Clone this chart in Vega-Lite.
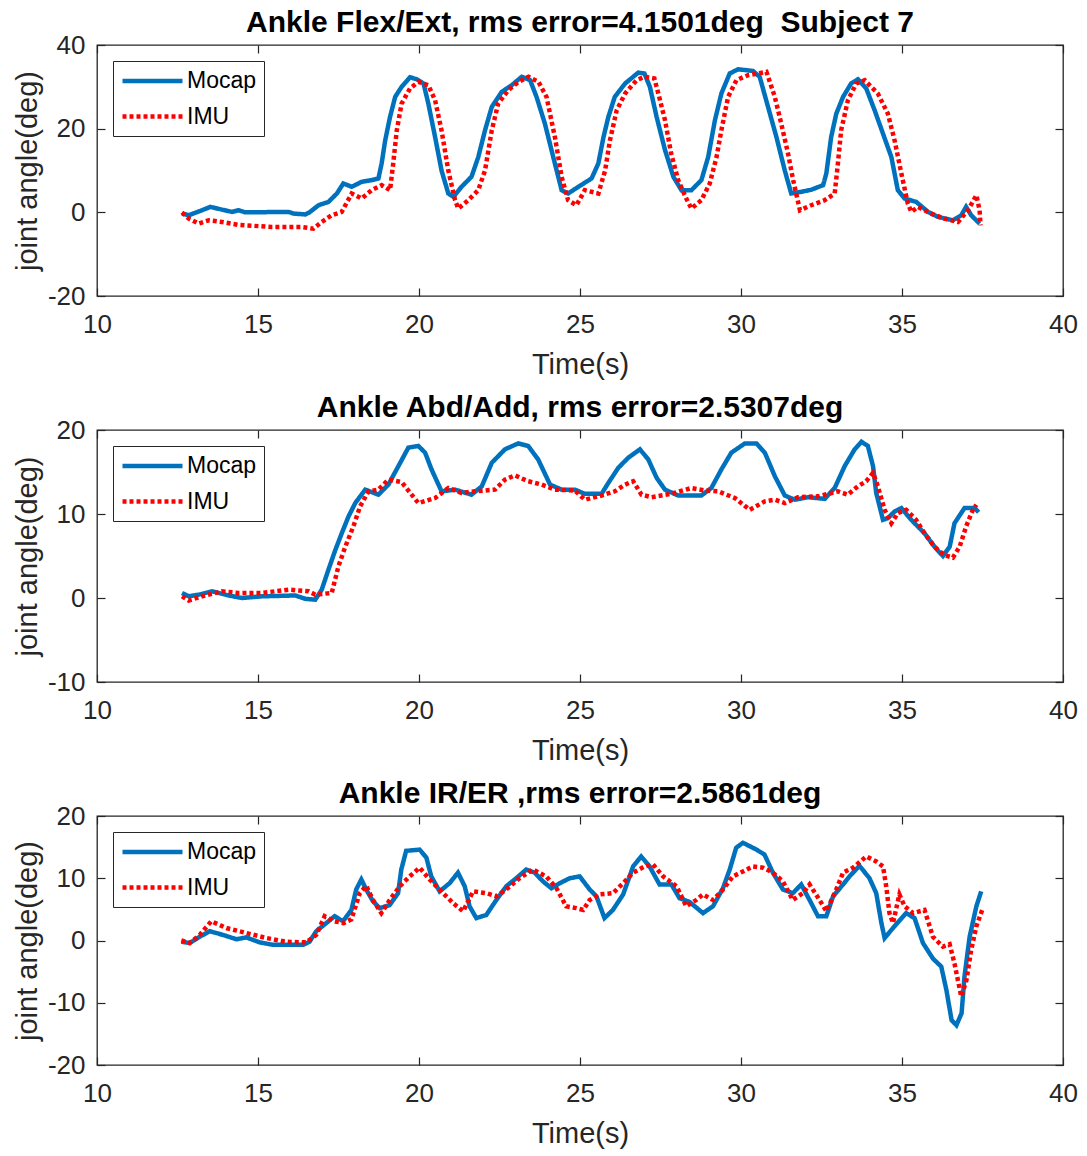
{
  "$schema": "https://vega.github.io/schema/vega-lite/v6.json",
  "padding": {"left": 12, "top": 7, "right": 6, "bottom": 4},
  "spacing": 11,
  "config": {
    "font": "Liberation Sans",
    "view": {"stroke": "#262626", "strokeWidth": 1.3},
    "axis": {"grid": false, "domain": false, "minExtent": 0, "tickSize": -8, "tickColor": "#262626", "tickWidth": 1.2, "labelFont": "Liberation Sans", "labelFontSize": 26, "labelColor": "#262626", "labelFlush": false, "labelOverlap": false, "labelExpr": "replace(datum.label, '\u2212', '-')", "titleFont": "Liberation Sans", "titleFontSize": 29, "titleFontWeight": "normal", "titleColor": "#262626"},
    "axisX": {"labelPadding": 23, "titlePadding": 13.5},
    "axisY": {"labelPadding": 20, "titlePadding": 5},
    "title": {"font": "Liberation Sans", "fontSize": 30, "fontWeight": "bold", "color": "#000000", "anchor": "middle", "baseline": "alphabetic", "offset": -6},
    "legend": {"orient": "top-left", "offset": 16, "symbolType": "M-1.05,0H4.95", "symbolSize": 400, "symbolStrokeWidth": 4.5, "labelFont": "Liberation Sans", "labelFontSize": 23, "labelColor": "#000000", "strokeColor": "#262626", "fillColor": "white", "padding": 7.5, "rowPadding": 10.5, "labelOffset": 41.5}
  },
  "datasets": {
    "p1": [
      {"t":12.64,"v":-0.3,"s":"Mocap"},{"t":12.85,"v":-0.7,"s":"Mocap"},{"t":13.26,"v":0.5,"s":"Mocap"},{"t":13.52,"v":1.3,"s":"Mocap"},{"t":14.19,"v":0.1,"s":"Mocap"},{"t":14.4,"v":0.5,"s":"Mocap"},{"t":14.6,"v":0,"s":"Mocap"},{"t":15.95,"v":0.1,"s":"Mocap"},{"t":16.1,"v":-0.3,"s":"Mocap"},{"t":16.47,"v":-0.5,"s":"Mocap"},{"t":16.6,"v":0,"s":"Mocap"},{"t":16.88,"v":1.7,"s":"Mocap"},{"t":17.19,"v":2.5,"s":"Mocap"},{"t":17.45,"v":4.5,"s":"Mocap"},{"t":17.65,"v":6.9,"s":"Mocap"},{"t":17.91,"v":6.1,"s":"Mocap"},{"t":18.22,"v":7.3,"s":"Mocap"},{"t":18.53,"v":7.7,"s":"Mocap"},{"t":18.74,"v":8.1,"s":"Mocap"},{"t":18.84,"v":11.7,"s":"Mocap"},{"t":18.95,"v":17.2,"s":"Mocap"},{"t":19.1,"v":22.8,"s":"Mocap"},{"t":19.26,"v":27.6,"s":"Mocap"},{"t":19.46,"v":30,"s":"Mocap"},{"t":19.72,"v":32.3,"s":"Mocap"},{"t":19.93,"v":31.8,"s":"Mocap"},{"t":20.14,"v":30.8,"s":"Mocap"},{"t":20.29,"v":26,"s":"Mocap"},{"t":20.5,"v":18,"s":"Mocap"},{"t":20.7,"v":10,"s":"Mocap"},{"t":20.91,"v":4.5,"s":"Mocap"},{"t":21.07,"v":3.7,"s":"Mocap"},{"t":21.32,"v":6.1,"s":"Mocap"},{"t":21.63,"v":8.5,"s":"Mocap"},{"t":21.84,"v":13.2,"s":"Mocap"},{"t":22.05,"v":19.6,"s":"Mocap"},{"t":22.26,"v":25.2,"s":"Mocap"},{"t":22.57,"v":28.8,"s":"Mocap"},{"t":22.88,"v":30.4,"s":"Mocap"},{"t":23.19,"v":32.4,"s":"Mocap"},{"t":23.45,"v":31.6,"s":"Mocap"},{"t":23.65,"v":27.6,"s":"Mocap"},{"t":23.91,"v":21.2,"s":"Mocap"},{"t":24.17,"v":13.2,"s":"Mocap"},{"t":24.43,"v":5.3,"s":"Mocap"},{"t":24.63,"v":4.5,"s":"Mocap"},{"t":24.95,"v":6.1,"s":"Mocap"},{"t":25.36,"v":8.1,"s":"Mocap"},{"t":25.57,"v":11.7,"s":"Mocap"},{"t":25.73,"v":18,"s":"Mocap"},{"t":25.88,"v":22.8,"s":"Mocap"},{"t":26.08,"v":27.6,"s":"Mocap"},{"t":26.4,"v":30.8,"s":"Mocap"},{"t":26.81,"v":33.4,"s":"Mocap"},{"t":27.0,"v":33.2,"s":"Mocap"},{"t":27.17,"v":30,"s":"Mocap"},{"t":27.38,"v":22.8,"s":"Mocap"},{"t":27.64,"v":14.9,"s":"Mocap"},{"t":27.9,"v":8.5,"s":"Mocap"},{"t":28.15,"v":5.3,"s":"Mocap"},{"t":28.46,"v":5.3,"s":"Mocap"},{"t":28.77,"v":7.7,"s":"Mocap"},{"t":28.98,"v":13.2,"s":"Mocap"},{"t":29.19,"v":22,"s":"Mocap"},{"t":29.39,"v":28.4,"s":"Mocap"},{"t":29.65,"v":33.2,"s":"Mocap"},{"t":29.91,"v":34.2,"s":"Mocap"},{"t":30.37,"v":33.8,"s":"Mocap"},{"t":30.58,"v":32.4,"s":"Mocap"},{"t":30.84,"v":25.2,"s":"Mocap"},{"t":31.1,"v":18,"s":"Mocap"},{"t":31.36,"v":10,"s":"Mocap"},{"t":31.56,"v":4.5,"s":"Mocap"},{"t":31.87,"v":4.9,"s":"Mocap"},{"t":32.18,"v":5.4,"s":"Mocap"},{"t":32.55,"v":6.5,"s":"Mocap"},{"t":32.65,"v":9.3,"s":"Mocap"},{"t":32.8,"v":18,"s":"Mocap"},{"t":32.96,"v":23.6,"s":"Mocap"},{"t":33.17,"v":27.6,"s":"Mocap"},{"t":33.42,"v":30.8,"s":"Mocap"},{"t":33.63,"v":31.8,"s":"Mocap"},{"t":33.89,"v":29.6,"s":"Mocap"},{"t":34.15,"v":24.4,"s":"Mocap"},{"t":34.41,"v":18.8,"s":"Mocap"},{"t":34.67,"v":13.2,"s":"Mocap"},{"t":34.87,"v":5.3,"s":"Mocap"},{"t":35.08,"v":3.3,"s":"Mocap"},{"t":35.44,"v":2.5,"s":"Mocap"},{"t":35.81,"v":0.1,"s":"Mocap"},{"t":36.12,"v":-1.1,"s":"Mocap"},{"t":36.58,"v":-1.9,"s":"Mocap"},{"t":36.84,"v":-0.7,"s":"Mocap"},{"t":36.99,"v":1.3,"s":"Mocap"},{"t":37.15,"v":-0.7,"s":"Mocap"},{"t":37.41,"v":-2.7,"s":"Mocap"},
      {"t":12.64,"v":0,"s":"IMU"},{"t":12.85,"v":-1.5,"s":"IMU"},{"t":13.16,"v":-2.7,"s":"IMU"},{"t":13.47,"v":-1.9,"s":"IMU"},{"t":13.88,"v":-2.3,"s":"IMU"},{"t":14.4,"v":-3,"s":"IMU"},{"t":15.43,"v":-3.5,"s":"IMU"},{"t":16.36,"v":-3.5,"s":"IMU"},{"t":16.72,"v":-3.9,"s":"IMU"},{"t":16.98,"v":-2.3,"s":"IMU"},{"t":17.29,"v":-0.7,"s":"IMU"},{"t":17.6,"v":0.1,"s":"IMU"},{"t":17.91,"v":4.5,"s":"IMU"},{"t":18.22,"v":3.3,"s":"IMU"},{"t":18.53,"v":5.3,"s":"IMU"},{"t":18.84,"v":6.5,"s":"IMU"},{"t":19.1,"v":5.3,"s":"IMU"},{"t":19.2,"v":11.7,"s":"IMU"},{"t":19.31,"v":19.6,"s":"IMU"},{"t":19.46,"v":26,"s":"IMU"},{"t":19.72,"v":29.6,"s":"IMU"},{"t":19.98,"v":31.2,"s":"IMU"},{"t":20.29,"v":30.4,"s":"IMU"},{"t":20.5,"v":26.8,"s":"IMU"},{"t":20.7,"v":19.6,"s":"IMU"},{"t":20.91,"v":10,"s":"IMU"},{"t":21.12,"v":2.9,"s":"IMU"},{"t":21.22,"v":0.9,"s":"IMU"},{"t":21.53,"v":2.9,"s":"IMU"},{"t":21.84,"v":5.3,"s":"IMU"},{"t":22.05,"v":10,"s":"IMU"},{"t":22.26,"v":19.6,"s":"IMU"},{"t":22.46,"v":26,"s":"IMU"},{"t":22.77,"v":29.2,"s":"IMU"},{"t":23.09,"v":31.2,"s":"IMU"},{"t":23.4,"v":32.4,"s":"IMU"},{"t":23.71,"v":31.2,"s":"IMU"},{"t":23.96,"v":27.6,"s":"IMU"},{"t":24.22,"v":18,"s":"IMU"},{"t":24.43,"v":8.5,"s":"IMU"},{"t":24.63,"v":2.9,"s":"IMU"},{"t":24.89,"v":1.7,"s":"IMU"},{"t":25.15,"v":5.3,"s":"IMU"},{"t":25.57,"v":4.5,"s":"IMU"},{"t":25.78,"v":10,"s":"IMU"},{"t":25.93,"v":17.2,"s":"IMU"},{"t":26.14,"v":24.4,"s":"IMU"},{"t":26.4,"v":28.4,"s":"IMU"},{"t":26.76,"v":31.6,"s":"IMU"},{"t":27.0,"v":32.4,"s":"IMU"},{"t":27.31,"v":32,"s":"IMU"},{"t":27.46,"v":27.6,"s":"IMU"},{"t":27.64,"v":22,"s":"IMU"},{"t":27.83,"v":14.1,"s":"IMU"},{"t":28.05,"v":7.7,"s":"IMU"},{"t":28.3,"v":3.3,"s":"IMU"},{"t":28.46,"v":0.9,"s":"IMU"},{"t":28.77,"v":2.9,"s":"IMU"},{"t":29.03,"v":6.9,"s":"IMU"},{"t":29.24,"v":13.2,"s":"IMU"},{"t":29.39,"v":19.6,"s":"IMU"},{"t":29.6,"v":27.6,"s":"IMU"},{"t":29.86,"v":31.6,"s":"IMU"},{"t":30.22,"v":32.8,"s":"IMU"},{"t":30.53,"v":33.2,"s":"IMU"},{"t":30.79,"v":33.6,"s":"IMU"},{"t":31.05,"v":27.6,"s":"IMU"},{"t":31.25,"v":21.2,"s":"IMU"},{"t":31.46,"v":14.1,"s":"IMU"},{"t":31.62,"v":7.7,"s":"IMU"},{"t":31.83,"v":0.5,"s":"IMU"},{"t":32.18,"v":1.7,"s":"IMU"},{"t":32.6,"v":2.9,"s":"IMU"},{"t":32.91,"v":4.5,"s":"IMU"},{"t":33.01,"v":11.7,"s":"IMU"},{"t":33.11,"v":19.6,"s":"IMU"},{"t":33.32,"v":26.8,"s":"IMU"},{"t":33.58,"v":30.8,"s":"IMU"},{"t":33.84,"v":31.6,"s":"IMU"},{"t":34.25,"v":28.4,"s":"IMU"},{"t":34.56,"v":23.6,"s":"IMU"},{"t":34.77,"v":17.2,"s":"IMU"},{"t":34.98,"v":9.3,"s":"IMU"},{"t":35.18,"v":2.1,"s":"IMU"},{"t":35.29,"v":0.1,"s":"IMU"},{"t":35.49,"v":1.3,"s":"IMU"},{"t":35.91,"v":-0.3,"s":"IMU"},{"t":36.32,"v":-1.5,"s":"IMU"},{"t":36.74,"v":-2.3,"s":"IMU"},{"t":37.05,"v":0.5,"s":"IMU"},{"t":37.31,"v":4.1,"s":"IMU"},{"t":37.41,"v":0.5,"s":"IMU"},{"t":37.44,"v":-3.1,"s":"IMU"}
    ],
    "p2": [
      {"t":12.64,"v":0.6,"s":"Mocap"},{"t":12.85,"v":0.2,"s":"Mocap"},{"t":13.16,"v":0.4,"s":"Mocap"},{"t":13.57,"v":0.8,"s":"Mocap"},{"t":14.09,"v":0.3,"s":"Mocap"},{"t":14.5,"v":0,"s":"Mocap"},{"t":15.12,"v":0.2,"s":"Mocap"},{"t":16.16,"v":0.3,"s":"Mocap"},{"t":16.47,"v":-0.1,"s":"Mocap"},{"t":16.78,"v":-0.2,"s":"Mocap"},{"t":16.98,"v":1,"s":"Mocap"},{"t":17.19,"v":3.4,"s":"Mocap"},{"t":17.4,"v":5.7,"s":"Mocap"},{"t":17.6,"v":7.7,"s":"Mocap"},{"t":17.81,"v":9.7,"s":"Mocap"},{"t":18.02,"v":11.3,"s":"Mocap"},{"t":18.33,"v":12.9,"s":"Mocap"},{"t":18.74,"v":12.3,"s":"Mocap"},{"t":19.05,"v":13.5,"s":"Mocap"},{"t":19.36,"v":15.7,"s":"Mocap"},{"t":19.67,"v":17.9,"s":"Mocap"},{"t":19.98,"v":18.1,"s":"Mocap"},{"t":20.19,"v":17.3,"s":"Mocap"},{"t":20.39,"v":15.3,"s":"Mocap"},{"t":20.7,"v":12.7,"s":"Mocap"},{"t":21.12,"v":12.9,"s":"Mocap"},{"t":21.63,"v":12.3,"s":"Mocap"},{"t":21.95,"v":13.3,"s":"Mocap"},{"t":22.26,"v":16.1,"s":"Mocap"},{"t":22.67,"v":17.7,"s":"Mocap"},{"t":23.08,"v":18.4,"s":"Mocap"},{"t":23.39,"v":18.1,"s":"Mocap"},{"t":23.7,"v":16.5,"s":"Mocap"},{"t":24.07,"v":13.5,"s":"Mocap"},{"t":24.43,"v":12.9,"s":"Mocap"},{"t":24.84,"v":12.9,"s":"Mocap"},{"t":25.15,"v":12.4,"s":"Mocap"},{"t":25.67,"v":12.4,"s":"Mocap"},{"t":25.88,"v":13.7,"s":"Mocap"},{"t":26.19,"v":15.5,"s":"Mocap"},{"t":26.5,"v":16.7,"s":"Mocap"},{"t":26.86,"v":17.7,"s":"Mocap"},{"t":27.12,"v":16.5,"s":"Mocap"},{"t":27.38,"v":14.3,"s":"Mocap"},{"t":27.64,"v":12.9,"s":"Mocap"},{"t":28.05,"v":12.2,"s":"Mocap"},{"t":28.77,"v":12.2,"s":"Mocap"},{"t":29.08,"v":13.1,"s":"Mocap"},{"t":29.39,"v":15.3,"s":"Mocap"},{"t":29.7,"v":17.3,"s":"Mocap"},{"t":30.12,"v":18.4,"s":"Mocap"},{"t":30.48,"v":18.4,"s":"Mocap"},{"t":30.74,"v":17.3,"s":"Mocap"},{"t":31.05,"v":14.5,"s":"Mocap"},{"t":31.36,"v":12.2,"s":"Mocap"},{"t":31.67,"v":11.7,"s":"Mocap"},{"t":32.08,"v":12,"s":"Mocap"},{"t":32.6,"v":11.8,"s":"Mocap"},{"t":32.91,"v":13.1,"s":"Mocap"},{"t":33.22,"v":15.7,"s":"Mocap"},{"t":33.53,"v":17.7,"s":"Mocap"},{"t":33.74,"v":18.6,"s":"Mocap"},{"t":33.94,"v":18.1,"s":"Mocap"},{"t":34.1,"v":15.7,"s":"Mocap"},{"t":34.2,"v":12.5,"s":"Mocap"},{"t":34.41,"v":9.3,"s":"Mocap"},{"t":34.56,"v":9.5,"s":"Mocap"},{"t":34.77,"v":10.3,"s":"Mocap"},{"t":34.98,"v":10.7,"s":"Mocap"},{"t":35.29,"v":9.3,"s":"Mocap"},{"t":35.7,"v":7.7,"s":"Mocap"},{"t":36.01,"v":6.1,"s":"Mocap"},{"t":36.27,"v":5,"s":"Mocap"},{"t":36.48,"v":6.1,"s":"Mocap"},{"t":36.63,"v":8.9,"s":"Mocap"},{"t":36.94,"v":10.7,"s":"Mocap"},{"t":37.26,"v":10.7,"s":"Mocap"},{"t":37.38,"v":10.2,"s":"Mocap"},
      {"t":12.64,"v":0.2,"s":"IMU"},{"t":12.85,"v":-0.3,"s":"IMU"},{"t":13.26,"v":0.2,"s":"IMU"},{"t":13.88,"v":0.8,"s":"IMU"},{"t":14.4,"v":0.6,"s":"IMU"},{"t":15.12,"v":0.6,"s":"IMU"},{"t":15.95,"v":1,"s":"IMU"},{"t":16.57,"v":0.8,"s":"IMU"},{"t":16.78,"v":0.4,"s":"IMU"},{"t":17.29,"v":0.6,"s":"IMU"},{"t":17.5,"v":3.8,"s":"IMU"},{"t":17.71,"v":6.1,"s":"IMU"},{"t":17.96,"v":8.5,"s":"IMU"},{"t":18.17,"v":10.9,"s":"IMU"},{"t":18.43,"v":12.7,"s":"IMU"},{"t":18.74,"v":12.9,"s":"IMU"},{"t":19.05,"v":14.1,"s":"IMU"},{"t":19.46,"v":13.8,"s":"IMU"},{"t":19.98,"v":11.3,"s":"IMU"},{"t":20.5,"v":11.9,"s":"IMU"},{"t":20.91,"v":13.1,"s":"IMU"},{"t":21.32,"v":12.5,"s":"IMU"},{"t":21.74,"v":12.7,"s":"IMU"},{"t":22.36,"v":12.9,"s":"IMU"},{"t":22.67,"v":14.1,"s":"IMU"},{"t":22.98,"v":14.6,"s":"IMU"},{"t":23.39,"v":13.9,"s":"IMU"},{"t":23.81,"v":13.5,"s":"IMU"},{"t":24.22,"v":12.9,"s":"IMU"},{"t":24.84,"v":12.8,"s":"IMU"},{"t":25.15,"v":11.7,"s":"IMU"},{"t":25.67,"v":12.2,"s":"IMU"},{"t":26.08,"v":12.7,"s":"IMU"},{"t":26.4,"v":13.5,"s":"IMU"},{"t":26.65,"v":13.9,"s":"IMU"},{"t":26.91,"v":12.3,"s":"IMU"},{"t":27.22,"v":12,"s":"IMU"},{"t":27.83,"v":12.4,"s":"IMU"},{"t":28.46,"v":13.1,"s":"IMU"},{"t":28.87,"v":12.8,"s":"IMU"},{"t":29.29,"v":12.7,"s":"IMU"},{"t":29.81,"v":11.9,"s":"IMU"},{"t":30.27,"v":10.5,"s":"IMU"},{"t":30.74,"v":11.5,"s":"IMU"},{"t":31.05,"v":11.7,"s":"IMU"},{"t":31.36,"v":11.3,"s":"IMU"},{"t":31.77,"v":12,"s":"IMU"},{"t":32.39,"v":12.1,"s":"IMU"},{"t":33.01,"v":12.7,"s":"IMU"},{"t":33.32,"v":12.3,"s":"IMU"},{"t":33.63,"v":13.3,"s":"IMU"},{"t":33.89,"v":13.9,"s":"IMU"},{"t":34.1,"v":14.9,"s":"IMU"},{"t":34.25,"v":13.3,"s":"IMU"},{"t":34.46,"v":10.5,"s":"IMU"},{"t":34.67,"v":8.9,"s":"IMU"},{"t":34.87,"v":10.1,"s":"IMU"},{"t":35.13,"v":10.5,"s":"IMU"},{"t":35.44,"v":9.3,"s":"IMU"},{"t":35.7,"v":7.7,"s":"IMU"},{"t":36.01,"v":6.1,"s":"IMU"},{"t":36.32,"v":5.1,"s":"IMU"},{"t":36.58,"v":4.8,"s":"IMU"},{"t":36.79,"v":6.1,"s":"IMU"},{"t":36.99,"v":8.5,"s":"IMU"},{"t":37.2,"v":10.5,"s":"IMU"},{"t":37.31,"v":11.1,"s":"IMU"}
    ],
    "p3": [
      {"t":12.62,"v":-0.2,"s":"Mocap"},{"t":12.88,"v":-0.4,"s":"Mocap"},{"t":13.19,"v":0.6,"s":"Mocap"},{"t":13.5,"v":1.5,"s":"Mocap"},{"t":13.91,"v":0.9,"s":"Mocap"},{"t":14.33,"v":0.2,"s":"Mocap"},{"t":14.64,"v":0.5,"s":"Mocap"},{"t":15.05,"v":-0.3,"s":"Mocap"},{"t":15.47,"v":-0.7,"s":"Mocap"},{"t":16.4,"v":-0.7,"s":"Mocap"},{"t":16.6,"v":-0.2,"s":"Mocap"},{"t":16.81,"v":1.5,"s":"Mocap"},{"t":17.12,"v":2.8,"s":"Mocap"},{"t":17.38,"v":3.9,"s":"Mocap"},{"t":17.64,"v":3.1,"s":"Mocap"},{"t":17.9,"v":4.9,"s":"Mocap"},{"t":18.05,"v":8.2,"s":"Mocap"},{"t":18.21,"v":9.8,"s":"Mocap"},{"t":18.36,"v":8.2,"s":"Mocap"},{"t":18.57,"v":6.3,"s":"Mocap"},{"t":18.78,"v":5.2,"s":"Mocap"},{"t":19.09,"v":5.7,"s":"Mocap"},{"t":19.35,"v":7.6,"s":"Mocap"},{"t":19.45,"v":11.4,"s":"Mocap"},{"t":19.6,"v":14.4,"s":"Mocap"},{"t":20.02,"v":14.6,"s":"Mocap"},{"t":20.23,"v":13.3,"s":"Mocap"},{"t":20.38,"v":10.3,"s":"Mocap"},{"t":20.64,"v":7.9,"s":"Mocap"},{"t":20.95,"v":9.2,"s":"Mocap"},{"t":21.21,"v":10.9,"s":"Mocap"},{"t":21.42,"v":8.7,"s":"Mocap"},{"t":21.57,"v":5.5,"s":"Mocap"},{"t":21.78,"v":3.6,"s":"Mocap"},{"t":22.09,"v":4.1,"s":"Mocap"},{"t":22.4,"v":6.5,"s":"Mocap"},{"t":22.71,"v":8.7,"s":"Mocap"},{"t":23.02,"v":10,"s":"Mocap"},{"t":23.33,"v":11.4,"s":"Mocap"},{"t":23.59,"v":10.9,"s":"Mocap"},{"t":23.85,"v":9.5,"s":"Mocap"},{"t":24.11,"v":8.4,"s":"Mocap"},{"t":24.37,"v":9.2,"s":"Mocap"},{"t":24.68,"v":10,"s":"Mocap"},{"t":24.99,"v":10.3,"s":"Mocap"},{"t":25.3,"v":8.2,"s":"Mocap"},{"t":25.51,"v":7.1,"s":"Mocap"},{"t":25.76,"v":3.6,"s":"Mocap"},{"t":26.02,"v":4.9,"s":"Mocap"},{"t":26.34,"v":7.4,"s":"Mocap"},{"t":26.65,"v":11.9,"s":"Mocap"},{"t":26.9,"v":13.5,"s":"Mocap"},{"t":27.16,"v":11.9,"s":"Mocap"},{"t":27.47,"v":9,"s":"Mocap"},{"t":27.84,"v":9,"s":"Mocap"},{"t":28.09,"v":6.8,"s":"Mocap"},{"t":28.4,"v":6.2,"s":"Mocap"},{"t":28.82,"v":4.4,"s":"Mocap"},{"t":29.13,"v":5.5,"s":"Mocap"},{"t":29.44,"v":8.4,"s":"Mocap"},{"t":29.65,"v":11.4,"s":"Mocap"},{"t":29.85,"v":14.9,"s":"Mocap"},{"t":30.06,"v":15.7,"s":"Mocap"},{"t":30.48,"v":14.6,"s":"Mocap"},{"t":30.73,"v":13.8,"s":"Mocap"},{"t":30.99,"v":10.9,"s":"Mocap"},{"t":31.3,"v":8.2,"s":"Mocap"},{"t":31.61,"v":7.6,"s":"Mocap"},{"t":31.87,"v":9,"s":"Mocap"},{"t":32.13,"v":6.5,"s":"Mocap"},{"t":32.39,"v":3.9,"s":"Mocap"},{"t":32.65,"v":3.9,"s":"Mocap"},{"t":32.86,"v":7.1,"s":"Mocap"},{"t":33.17,"v":9,"s":"Mocap"},{"t":33.37,"v":10.3,"s":"Mocap"},{"t":33.68,"v":12,"s":"Mocap"},{"t":33.99,"v":10,"s":"Mocap"},{"t":34.2,"v":7.6,"s":"Mocap"},{"t":34.36,"v":2.8,"s":"Mocap"},{"t":34.46,"v":0.4,"s":"Mocap"},{"t":34.72,"v":2,"s":"Mocap"},{"t":35.13,"v":4.4,"s":"Mocap"},{"t":35.39,"v":3.6,"s":"Mocap"},{"t":35.65,"v":-0.4,"s":"Mocap"},{"t":35.96,"v":-2.9,"s":"Mocap"},{"t":36.22,"v":-4.2,"s":"Mocap"},{"t":36.38,"v":-8,"s":"Mocap"},{"t":36.54,"v":-12.8,"s":"Mocap"},{"t":36.69,"v":-13.6,"s":"Mocap"},{"t":36.85,"v":-11.7,"s":"Mocap"},{"t":36.94,"v":-5.8,"s":"Mocap"},{"t":37.1,"v":0.6,"s":"Mocap"},{"t":37.31,"v":5.5,"s":"Mocap"},{"t":37.46,"v":7.9,"s":"Mocap"},
      {"t":12.62,"v":0,"s":"IMU"},{"t":12.88,"v":-0.4,"s":"IMU"},{"t":13.19,"v":0.9,"s":"IMU"},{"t":13.55,"v":3.1,"s":"IMU"},{"t":14.02,"v":2,"s":"IMU"},{"t":14.64,"v":1.2,"s":"IMU"},{"t":15.26,"v":0.4,"s":"IMU"},{"t":15.88,"v":-0.2,"s":"IMU"},{"t":16.5,"v":-0.3,"s":"IMU"},{"t":16.81,"v":0.9,"s":"IMU"},{"t":17.07,"v":3.9,"s":"IMU"},{"t":17.35,"v":3.1,"s":"IMU"},{"t":17.66,"v":2.8,"s":"IMU"},{"t":17.9,"v":3.4,"s":"IMU"},{"t":18.16,"v":7.6,"s":"IMU"},{"t":18.36,"v":8.8,"s":"IMU"},{"t":18.57,"v":6.5,"s":"IMU"},{"t":18.83,"v":4.4,"s":"IMU"},{"t":19.09,"v":6.5,"s":"IMU"},{"t":19.4,"v":8.7,"s":"IMU"},{"t":19.71,"v":10.3,"s":"IMU"},{"t":20.02,"v":11.7,"s":"IMU"},{"t":20.33,"v":9.8,"s":"IMU"},{"t":20.75,"v":7.6,"s":"IMU"},{"t":21.06,"v":6,"s":"IMU"},{"t":21.37,"v":4.7,"s":"IMU"},{"t":21.68,"v":7.9,"s":"IMU"},{"t":22.09,"v":7.6,"s":"IMU"},{"t":22.4,"v":7.1,"s":"IMU"},{"t":22.71,"v":8.2,"s":"IMU"},{"t":23.12,"v":10,"s":"IMU"},{"t":23.54,"v":11.4,"s":"IMU"},{"t":23.95,"v":10.3,"s":"IMU"},{"t":24.27,"v":8.4,"s":"IMU"},{"t":24.57,"v":5.5,"s":"IMU"},{"t":24.88,"v":5.2,"s":"IMU"},{"t":25.1,"v":4.9,"s":"IMU"},{"t":25.3,"v":6.5,"s":"IMU"},{"t":25.61,"v":7.4,"s":"IMU"},{"t":26.02,"v":7.6,"s":"IMU"},{"t":26.34,"v":9.2,"s":"IMU"},{"t":26.65,"v":10.9,"s":"IMU"},{"t":27.01,"v":11.9,"s":"IMU"},{"t":27.27,"v":12.2,"s":"IMU"},{"t":27.58,"v":10.3,"s":"IMU"},{"t":28.0,"v":8.7,"s":"IMU"},{"t":28.3,"v":5.5,"s":"IMU"},{"t":28.61,"v":6.5,"s":"IMU"},{"t":28.82,"v":7.4,"s":"IMU"},{"t":29.13,"v":6.5,"s":"IMU"},{"t":29.44,"v":8.2,"s":"IMU"},{"t":29.75,"v":10.3,"s":"IMU"},{"t":30.06,"v":11.1,"s":"IMU"},{"t":30.37,"v":11.9,"s":"IMU"},{"t":30.68,"v":11.7,"s":"IMU"},{"t":30.99,"v":10.9,"s":"IMU"},{"t":31.3,"v":9.5,"s":"IMU"},{"t":31.61,"v":6.5,"s":"IMU"},{"t":31.92,"v":7.6,"s":"IMU"},{"t":32.13,"v":9,"s":"IMU"},{"t":32.44,"v":6.5,"s":"IMU"},{"t":32.65,"v":4.7,"s":"IMU"},{"t":32.96,"v":8.2,"s":"IMU"},{"t":33.17,"v":10.9,"s":"IMU"},{"t":33.48,"v":11.7,"s":"IMU"},{"t":33.89,"v":13.5,"s":"IMU"},{"t":34.2,"v":12.7,"s":"IMU"},{"t":34.41,"v":11.9,"s":"IMU"},{"t":34.51,"v":8.7,"s":"IMU"},{"t":34.61,"v":4.4,"s":"IMU"},{"t":34.72,"v":2.8,"s":"IMU"},{"t":34.92,"v":7.4,"s":"IMU"},{"t":35.08,"v":5.5,"s":"IMU"},{"t":35.34,"v":4.4,"s":"IMU"},{"t":35.7,"v":4.9,"s":"IMU"},{"t":35.96,"v":0.6,"s":"IMU"},{"t":36.27,"v":-1,"s":"IMU"},{"t":36.48,"v":-0.6,"s":"IMU"},{"t":36.63,"v":-3.7,"s":"IMU"},{"t":36.84,"v":-9,"s":"IMU"},{"t":37.0,"v":-6.4,"s":"IMU"},{"t":37.15,"v":-1.5,"s":"IMU"},{"t":37.31,"v":2.3,"s":"IMU"},{"t":37.49,"v":4.9,"s":"IMU"}
    ]
  },
  "resolve": {"scale": {"color": "independent", "strokeDash": "independent"}, "legend": {"color": "independent", "strokeDash": "independent"}},
  "vconcat": [
    {
      "width": 966, "height": 251,
      "title": {"text": "Ankle Flex/Ext, rms error=4.1501deg\u00a0 Subject 7"},
      "data": {"name": "p1"},
      "layer": [
        {
          "mark": {"type": "line", "strokeWidth": 4.5},
          "encoding": {
            "x": {"field": "t", "type": "quantitative", "scale": {"domain": [10, 40], "nice": false, "zero": false}, "axis": {"orient": "bottom", "values": [10, 15, 20, 25, 30, 35, 40], "title": "Time(s)"}},
            "y": {"field": "v", "type": "quantitative", "scale": {"domain": [-20, 40], "nice": false, "zero": false}, "axis": {"orient": "left", "values": [-20, 0, 20, 40], "title": "joint angle(deg)"}},
            "color": {"field": "s", "type": "nominal", "sort": null, "scale": {"domain": ["Mocap", "IMU"], "range": ["#0072BD", "#FF0000"]}, "legend": {"title": null}},
            "strokeDash": {"field": "s", "type": "nominal", "sort": null, "scale": {"domain": ["Mocap", "IMU"], "range": [[1, 0], [4, 3]]}, "legend": {"title": null}}
          }
        },
        {
          "mark": {"type": "line", "opacity": 0},
          "encoding": {
            "x": {"field": "t", "type": "quantitative", "axis": {"orient": "top", "values": [10, 15, 20, 25, 30, 35, 40], "labels": false, "title": null}},
            "y": {"field": "v", "type": "quantitative", "axis": {"orient": "right", "values": [-20, 0, 20, 40], "labels": false, "title": null}},
            "detail": {"field": "s"}
          }
        }
      ],
      "resolve": {"axis": {"x": "independent", "y": "independent"}}
    },
    {
      "width": 966, "height": 252,
      "title": {"text": "Ankle Abd/Add, rms error=2.5307deg"},
      "data": {"name": "p2"},
      "layer": [
        {
          "mark": {"type": "line", "strokeWidth": 4.5},
          "encoding": {
            "x": {"field": "t", "type": "quantitative", "scale": {"domain": [10, 40], "nice": false, "zero": false}, "axis": {"orient": "bottom", "values": [10, 15, 20, 25, 30, 35, 40], "title": "Time(s)"}},
            "y": {"field": "v", "type": "quantitative", "scale": {"domain": [-10, 20], "nice": false, "zero": false}, "axis": {"orient": "left", "values": [-10, 0, 10, 20], "title": "joint angle(deg)"}},
            "color": {"field": "s", "type": "nominal", "sort": null, "scale": {"domain": ["Mocap", "IMU"], "range": ["#0072BD", "#FF0000"]}, "legend": {"title": null}},
            "strokeDash": {"field": "s", "type": "nominal", "sort": null, "scale": {"domain": ["Mocap", "IMU"], "range": [[1, 0], [4, 3]]}, "legend": {"title": null}}
          }
        },
        {
          "mark": {"type": "line", "opacity": 0},
          "encoding": {
            "x": {"field": "t", "type": "quantitative", "axis": {"orient": "top", "values": [10, 15, 20, 25, 30, 35, 40], "labels": false, "title": null}},
            "y": {"field": "v", "type": "quantitative", "axis": {"orient": "right", "values": [-10, 0, 10, 20], "labels": false, "title": null}},
            "detail": {"field": "s"}
          }
        }
      ],
      "resolve": {"axis": {"x": "independent", "y": "independent"}}
    },
    {
      "width": 966, "height": 249,
      "title": {"text": "Ankle IR/ER ,rms error=2.5861deg"},
      "data": {"name": "p3"},
      "layer": [
        {
          "mark": {"type": "line", "strokeWidth": 4.5},
          "encoding": {
            "x": {"field": "t", "type": "quantitative", "scale": {"domain": [10, 40], "nice": false, "zero": false}, "axis": {"orient": "bottom", "values": [10, 15, 20, 25, 30, 35, 40], "title": "Time(s)"}},
            "y": {"field": "v", "type": "quantitative", "scale": {"domain": [-20, 20], "nice": false, "zero": false}, "axis": {"orient": "left", "values": [-20, -10, 0, 10, 20], "title": "joint angle(deg)"}},
            "color": {"field": "s", "type": "nominal", "sort": null, "scale": {"domain": ["Mocap", "IMU"], "range": ["#0072BD", "#FF0000"]}, "legend": {"title": null}},
            "strokeDash": {"field": "s", "type": "nominal", "sort": null, "scale": {"domain": ["Mocap", "IMU"], "range": [[1, 0], [4, 3]]}, "legend": {"title": null}}
          }
        },
        {
          "mark": {"type": "line", "opacity": 0},
          "encoding": {
            "x": {"field": "t", "type": "quantitative", "axis": {"orient": "top", "values": [10, 15, 20, 25, 30, 35, 40], "labels": false, "title": null}},
            "y": {"field": "v", "type": "quantitative", "axis": {"orient": "right", "values": [-20, -10, 0, 10, 20], "labels": false, "title": null}},
            "detail": {"field": "s"}
          }
        }
      ],
      "resolve": {"axis": {"x": "independent", "y": "independent"}}
    }
  ]
}
